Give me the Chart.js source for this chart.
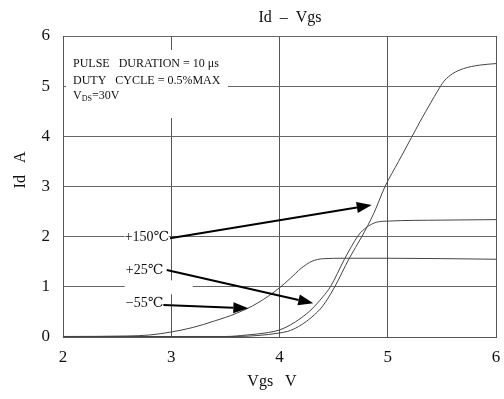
<!DOCTYPE html>
<html>
<head>
<meta charset="utf-8">
<script src="https://cdn.jsdelivr.net/npm/chart.js@4"></script>
<style>
  html, body { margin: 0; padding: 0; background: #fff; }
  #wrap { width: 504px; height: 399px; }
</style>
</head>
<body>
<div id="wrap"><canvas id="idVgsChart"></canvas></div>
<script>
// Transfer curves (Vgs in V, Id in A)
const vgsM55 = [2, 2.6, 2.8, 3.0, 3.2, 3.4, 3.6, 3.8, 4.0, 4.1, 4.2, 4.3, 4.4, 4.6, 5.0, 6.0];
const idM55  = [0.01, 0.02, 0.04, 0.1, 0.19, 0.32, 0.47, 0.68, 0.98, 1.17, 1.37, 1.51, 1.56, 1.57, 1.57, 1.55];

const vgs25 = [2, 3.5, 3.7, 3.9, 4.0, 4.1, 4.2, 4.3, 4.4, 4.47, 4.6, 4.73, 4.8, 4.9, 5.0, 5.5, 6.0];
const id25  = [0.01, 0.01, 0.04, 0.09, 0.14, 0.24, 0.38, 0.56, 0.8, 1.0, 1.55, 2.03, 2.18, 2.29, 2.31, 2.33, 2.34];

const vgs150 = [2, 3.6, 3.8, 4.0, 4.1, 4.2, 4.3, 4.4, 4.51, 4.645, 4.76, 4.87, 4.975, 5.1, 5.22, 5.3, 5.4, 5.46, 5.52, 5.6, 5.7, 5.85, 6.0];
const id150  = [0.01, 0.01, 0.03, 0.08, 0.13, 0.24, 0.4, 0.62, 1.0, 1.57, 2.0, 2.46, 3.0, 3.5, 3.98, 4.3, 4.68, 4.9, 5.1, 5.25, 5.35, 5.42, 5.45];

const xTicks = [2, 3, 4, 5, 6];
const yTicks = [0, 1, 2, 3, 4, 5, 6];

// temperature labels and the arrows pointing at their curves (data units)
const tempLabels = ["+150℃", "+25℃", "−55℃"];
const labelAt = [[2.57, 1.99], [2.58, 1.33], [2.58, 0.67]];
const arrowFrom = [[2.988, 1.97], [2.958, 1.335], [2.927, 0.638]];
const arrowTo = [[4.852, 2.63], [4.312, 0.672], [3.712, 0.572]];

const SERIF = "'Liberation Serif', 'DejaVu Serif', serif";

function toPoints(xs, ys) {
    return xs.map((x, i) => ({ x: x, y: ys[i] }));
}

function arrow(ctx, x1, y1, x2, y2) {
    const ang = Math.atan2(y2 - y1, x2 - x1);
    const len = 15, half = 5.5;
    const bx = x2 - len * Math.cos(ang), by = y2 - len * Math.sin(ang);
    ctx.beginPath();
    ctx.moveTo(x1, y1);
    ctx.lineTo(bx, by);
    ctx.lineWidth = 2;
    ctx.strokeStyle = "#000";
    ctx.stroke();
    ctx.beginPath();
    ctx.moveTo(x2, y2);
    ctx.lineTo(bx + half * Math.sin(ang), by - half * Math.cos(ang));
    ctx.lineTo(bx - half * Math.sin(ang), by + half * Math.cos(ang));
    ctx.closePath();
    ctx.fillStyle = "#000";
    ctx.fill();
}

// title, axis titles, note block, labels and arrows
const notesPlugin = {
    id: "notes",
    afterDraw(chart) {
        const ctx = chart.ctx;
        const xs = chart.scales.x, ys = chart.scales.y;
        const ca = chart.chartArea;
        ctx.save();

        // white patches where the notes break the grid
        ctx.fillStyle = "#fff";
        ctx.fillRect(ca.left + 3, ca.top + 14, 162, 68);
        ctx.fillRect(xs.getPixelForValue(2.57), ys.getPixelForValue(1.99) - 9, 44, 18);
        ctx.fillRect(xs.getPixelForValue(2.57), ys.getPixelForValue(1.33) - 9, 38, 18);
        ctx.fillRect(xs.getPixelForValue(2.57), ys.getPixelForValue(1.13), 68, 14);
        ctx.fillRect(xs.getPixelForValue(2.57), ys.getPixelForValue(0.67) - 9, 38, 18);

        ctx.fillStyle = "#111";
        ctx.textBaseline = "middle";

        // title
        ctx.font = "16px " + SERIF;
        ctx.textAlign = "center";
        ctx.fillText("Id  –  Vgs", 290, 18);

        // axis titles
        ctx.fillText("Vgs   V", 272, 382);
        ctx.save();
        ctx.translate(21, 170);
        ctx.rotate(-Math.PI / 2);
        ctx.fillText("Id   A", 0, 0);
        ctx.restore();

        // test conditions
        ctx.textAlign = "left";
        ctx.font = "12px " + SERIF;
        const nx = ca.left + 10;
        ctx.fillText("PULSE   DURATION = 10 μs", nx, 64);
        ctx.fillText("DUTY   CYCLE = 0.5%MAX", nx, 81);
        ctx.fillText("V", nx, 96);
        let w = ctx.measureText("V").width;
        ctx.font = "8px " + SERIF;
        ctx.fillText("DS", nx + w, 99);
        w += ctx.measureText("DS").width;
        ctx.font = "12px " + SERIF;
        ctx.fillText("=30V", nx + w, 96);

        // temperature labels + arrows
        ctx.font = "14px " + SERIF;
        tempLabels.forEach((t, i) => {
            ctx.fillStyle = "#111";
            ctx.fillText(t, xs.getPixelForValue(labelAt[i][0]), ys.getPixelForValue(labelAt[i][1]));
            arrow(ctx,
                xs.getPixelForValue(arrowFrom[i][0]), ys.getPixelForValue(arrowFrom[i][1]),
                xs.getPixelForValue(arrowTo[i][0]), ys.getPixelForValue(arrowTo[i][1]));
        });
        ctx.restore();
    }
};

const lineStyle = { borderColor: "#444", borderWidth: 1, pointRadius: 0, fill: false, cubicInterpolationMode: "monotone" };

new Chart(document.getElementById("idVgsChart"), {
    type: "line",
    data: {
        datasets: [
            Object.assign({ label: "-55℃", data: toPoints(vgsM55, idM55) }, lineStyle),
            Object.assign({ label: "+25℃", data: toPoints(vgs25, id25) }, lineStyle),
            Object.assign({ label: "+150℃", data: toPoints(vgs150, id150) }, lineStyle)
        ]
    },
    options: {
        responsive: true,
        maintainAspectRatio: false,
        animation: false,
        layout: { padding: { top: 36, right: 8, left: 0, bottom: 0 } },
        plugins: { legend: { display: false }, tooltip: { enabled: false } },
        scales: {
            x: {
                type: "linear",
                min: 2, max: 6,
                afterBuildTicks: axis => { axis.ticks = xTicks.map(v => ({ value: v })); },
                afterFit: axis => { axis.height = 62; axis.paddingLeft = 0; axis.paddingRight = 0; },
                grid: { color: "#555", lineWidth: 1, drawTicks: false },
                border: { color: "#555" },
                ticks: { padding: 10, color: "#111", font: { family: SERIF, size: 17 } }
            },
            y: {
                min: 0, max: 6,
                afterBuildTicks: axis => { axis.ticks = yTicks.map(v => ({ value: v })); },
                afterFit: axis => { axis.width = 63; axis.paddingTop = 0; axis.paddingBottom = 0; },
                grid: { color: "#666", lineWidth: 1, drawTicks: false },
                border: { color: "#555" },
                ticks: { padding: 13, color: "#111", font: { family: SERIF, size: 17 } }
            }
        }
    },
    plugins: [notesPlugin]
});
</script>
</body>
</html>
